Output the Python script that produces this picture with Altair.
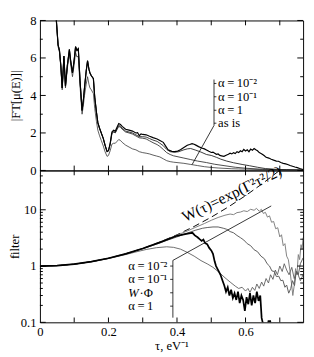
import altair as alt
import pandas as pd

FONT = "Liberation Serif"
XMAX = 0.768
PW, H1, H2 = 272, 155, 157

# ---------------- top panel: |FT[mu(E)]| ----------------
# common low-tau part of the three filtered curves (they overlap there)
filtered_low = [(0.040, 9.5), (0.048, 8.0), (0.053, 6.7), (0.057, 6.4), (0.061, 5.6), (0.065, 4.4),
                (0.070, 6.1), (0.0745, 4.5), (0.080, 5.6), (0.086, 6.45), (0.090, 5.8), (0.095, 5.2),
                (0.100, 5.9), (0.104, 6.6), (0.108, 6.4), (0.112, 6.5), (0.117, 4.8), (0.123, 3.2),
                (0.127, 3.8), (0.130, 4.4), (0.135, 5.3), (0.139, 5.85), (0.143, 5.4), (0.146, 5.2),
                (0.150, 5.05), (0.156, 4.9), (0.160, 3.9), (0.165, 3.1), (0.169, 2.55), (0.174, 2.25),
                (0.179, 2.0), (0.185, 1.7), (0.190, 1.35), (0.196, 1.0), (0.200, 1.05)]

top_a2_tail = [(0.205, 1.45), (0.21, 2.05), (0.215, 2.15), (0.22, 2.1), (0.225, 2.3), (0.23, 2.5),
               (0.235, 2.45), (0.24, 2.35), (0.25, 2.2), (0.26, 2.15), (0.27, 2.1), (0.28, 2.0),
               (0.285, 2.02), (0.29, 1.85), (0.295, 1.95), (0.30, 1.92), (0.31, 1.9), (0.32, 1.82),
               (0.33, 1.75), (0.342, 1.68), (0.35, 1.6), (0.36, 1.5), (0.367, 1.3), (0.374, 1.1),
               (0.385, 1.02), (0.393, 1.0), (0.402, 1.03), (0.41, 1.1), (0.42, 1.22), (0.43, 1.34),
               (0.437, 1.38), (0.444, 1.43), (0.45, 1.4), (0.455, 1.35), (0.463, 1.27), (0.472, 1.2),
               (0.48, 1.15), (0.486, 1.09), (0.493, 1.02), (0.50, 0.96), (0.505, 0.98), (0.51, 0.92),
               (0.515, 0.86), (0.52, 0.88), (0.525, 0.8), (0.53, 0.78), (0.537, 0.75), (0.545, 0.82),
               (0.55, 0.86), (0.555, 0.92), (0.56, 0.88), (0.565, 0.95), (0.57, 0.9), (0.575, 1.0),
               (0.58, 0.95), (0.585, 1.05), (0.59, 1.0), (0.595, 1.12), (0.60, 1.04), (0.605, 1.1),
               (0.61, 1.0), (0.615, 1.14), (0.62, 1.08), (0.625, 1.17), (0.63, 1.1), (0.635, 1.05),
               (0.64, 0.95), (0.644, 0.92), (0.65, 0.85), (0.655, 0.78), (0.66, 0.7), (0.668, 0.66),
               (0.675, 0.6), (0.682, 0.55), (0.69, 0.5), (0.696, 0.49), (0.703, 0.42), (0.71, 0.38),
               (0.717, 0.35), (0.723, 0.32), (0.73, 0.26), (0.737, 0.22), (0.744, 0.18), (0.751, 0.15),
               (0.758, 0.1), (0.768, 0.05)]

top_a1_tail = [(0.205, 1.4), (0.21, 1.98), (0.215, 2.08), (0.22, 2.03), (0.225, 2.22), (0.23, 2.4),
               (0.235, 2.35), (0.24, 2.25), (0.25, 2.1), (0.26, 2.05), (0.27, 2.0), (0.28, 1.9),
               (0.29, 1.8), (0.30, 1.8), (0.31, 1.78), (0.32, 1.7), (0.33, 1.62), (0.342, 1.55),
               (0.35, 1.45), (0.36, 1.32), (0.37, 1.12), (0.38, 1.0), (0.393, 0.97), (0.405, 1.0),
               (0.42, 1.1), (0.43, 1.15), (0.44, 1.17), (0.455, 1.08), (0.47, 0.98), (0.486, 0.85),
               (0.50, 0.8), (0.515, 0.7), (0.528, 0.6), (0.545, 0.5), (0.565, 0.41), (0.59, 0.32),
               (0.612, 0.25), (0.635, 0.17), (0.658, 0.1), (0.69, 0.06), (0.72, 0.04), (0.768, 0.02)]

top_a0_tail = [(0.205, 1.4), (0.21, 1.95), (0.215, 2.05), (0.22, 2.0), (0.225, 2.18), (0.23, 2.35),
               (0.235, 2.3), (0.24, 2.2), (0.25, 2.05), (0.26, 2.0), (0.27, 1.94), (0.28, 1.84),
               (0.29, 1.74), (0.30, 1.72), (0.31, 1.68), (0.32, 1.58), (0.33, 1.48), (0.342, 1.38),
               (0.35, 1.28), (0.36, 1.12), (0.37, 0.95), (0.38, 0.85), (0.39, 0.78), (0.40, 0.74),
               (0.42, 0.66), (0.44, 0.58), (0.46, 0.5), (0.486, 0.42), (0.51, 0.33), (0.54, 0.25),
               (0.57, 0.17), (0.60, 0.12), (0.64, 0.07), (0.70, 0.04), (0.768, 0.02)]

top_asis = [(0.040, 9.4), (0.048, 7.9), (0.053, 6.6), (0.057, 6.3), (0.061, 5.5), (0.065, 4.3),
            (0.070, 5.95), (0.0745, 4.4), (0.080, 5.45), (0.086, 6.25), (0.090, 5.6), (0.095, 5.0),
            (0.100, 5.65), (0.104, 6.3), (0.108, 6.05), (0.112, 6.1), (0.117, 4.5), (0.123, 3.0),
            (0.127, 3.5), (0.130, 4.0), (0.135, 4.6), (0.139, 5.0), (0.143, 4.6), (0.146, 4.4),
            (0.150, 4.3), (0.156, 4.1), (0.160, 3.3), (0.165, 2.6), (0.169, 2.15), (0.174, 1.85),
            (0.179, 1.6), (0.185, 1.3), (0.190, 1.0), (0.196, 0.75), (0.200, 0.8), (0.205, 1.05),
            (0.210, 1.4), (0.215, 1.45), (0.220, 1.45), (0.225, 1.55), (0.230, 1.65), (0.235, 1.6),
            (0.240, 1.5), (0.250, 1.35), (0.260, 1.25), (0.270, 1.15), (0.280, 1.1), (0.290, 1.0),
            (0.300, 0.95), (0.310, 0.92), (0.320, 0.88), (0.330, 0.82), (0.340, 0.77), (0.350, 0.72),
            (0.360, 0.62), (0.370, 0.52), (0.380, 0.47), (0.390, 0.44), (0.400, 0.42), (0.420, 0.38),
            (0.440, 0.32), (0.460, 0.26), (0.480, 0.2), (0.500, 0.16), (0.520, 0.13), (0.540, 0.11),
            (0.560, 0.09), (0.580, 0.08), (0.600, 0.07), (0.650, 0.05), (0.700, 0.03), (0.768, 0.02)]

TS = "\u2009"  # thin space
top_labels = [f"α{TS}={TS}10⁻²", f"α{TS}={TS}10⁻¹", f"α{TS}={TS}1", "as is"]
top_label_v = [4.64, 3.93, 3.21, 2.52]
top_label_tau = 0.52
top_bracket = dict(tau=0.508, v_top=4.85, v_bot=2.4, tick_end=0.515)
top_leader = dict(tau=0.508, v=2.4, tau2=0.444, v2=0.31)

# ---------------- bottom panel: filters ----------------
bot_W = [(0, 1.0), (0.05, 1.02), (0.1, 1.083), (0.15, 1.197), (0.2, 1.377), (0.25, 1.649),
         (0.3, 2.054), (0.35, 2.664), (0.4, 3.597), (0.45, 5.053), (0.5, 7.389), (0.55, 11.25),
         (0.6, 17.81), (0.65, 29.37), (0.7, 50.4), (0.72, 63.3)]

bot_a2 = [(0, 1.0), (0.05, 1.02), (0.1, 1.083), (0.15, 1.197), (0.2, 1.377), (0.25, 1.649),
          (0.3, 2.05), (0.35, 2.65), (0.4, 3.55), (0.43, 4.2), (0.455, 4.9), (0.48, 5.7), (0.5, 6.5),
          (0.52, 7.3), (0.54, 8.0), (0.555, 8.4), (0.565, 8.2), (0.575, 8.9), (0.585, 9.1),
          (0.595, 9.6), (0.605, 9.3), (0.615, 10.2), (0.625, 9.8), (0.632, 10.6), (0.64, 9.4),
          (0.646, 10.2), (0.652, 8.6), (0.658, 9.0), (0.664, 7.4), (0.67, 7.8), (0.676, 6.0),
          (0.682, 6.2), (0.688, 4.6), (0.694, 4.8), (0.70, 3.3), (0.705, 3.6), (0.71, 2.3),
          (0.715, 2.5), (0.72, 1.5), (0.725, 1.3), (0.73, 0.8), (0.734, 0.5), (0.738, 0.3),
          (0.742, 0.45), (0.746, 0.9), (0.75, 0.7), (0.754, 1.6), (0.758, 1.3), (0.762, 2.4),
          (0.765, 2.0), (0.768, 3.2)]

bot_a1 = [(0, 1.0), (0.05, 1.02), (0.1, 1.08), (0.15, 1.195), (0.2, 1.37), (0.25, 1.64), (0.3, 2.03),
          (0.34, 2.45), (0.37, 2.85), (0.40, 3.3), (0.43, 3.85), (0.455, 4.35), (0.475, 4.7),
          (0.49, 4.85), (0.505, 4.95), (0.52, 4.95), (0.535, 4.7), (0.545, 4.5), (0.555, 4.1),
          (0.565, 3.9), (0.575, 3.5), (0.585, 3.2), (0.595, 2.9), (0.605, 2.5), (0.615, 2.3),
          (0.625, 1.95), (0.635, 1.8), (0.645, 1.5), (0.655, 1.35), (0.663, 1.1), (0.67, 1.0),
          (0.677, 0.82), (0.684, 0.8), (0.69, 0.65), (0.697, 0.66), (0.703, 0.55), (0.709, 0.56),
          (0.715, 0.42), (0.72, 0.46), (0.726, 0.33), (0.732, 0.4), (0.737, 0.55), (0.743, 0.45),
          (0.748, 0.8), (0.754, 0.7), (0.76, 1.1), (0.768, 1.4)]

bot_a0 = [(0, 1.0), (0.05, 1.02), (0.1, 1.08), (0.15, 1.19), (0.2, 1.36), (0.25, 1.6), (0.28, 1.78),
          (0.31, 1.97), (0.34, 2.12), (0.37, 2.2), (0.39, 2.15), (0.41, 2.0), (0.43, 1.75),
          (0.45, 1.5), (0.47, 1.25), (0.49, 1.08), (0.505, 0.95), (0.52, 0.8), (0.54, 0.62),
          (0.555, 0.52), (0.57, 0.44), (0.58, 0.4), (0.59, 0.42), (0.60, 0.36), (0.607, 0.4),
          (0.613, 0.34), (0.62, 0.42), (0.627, 0.37), (0.633, 0.48), (0.64, 0.4), (0.647, 0.52),
          (0.653, 0.44), (0.66, 0.6), (0.667, 0.5), (0.673, 0.7), (0.68, 0.58), (0.687, 0.85),
          (0.693, 0.7), (0.70, 1.0), (0.707, 0.8), (0.713, 1.1), (0.72, 0.85), (0.727, 0.7),
          (0.735, 0.95), (0.742, 0.6), (0.75, 0.8), (0.76, 0.55), (0.768, 0.7)]

bot_wphi = [(0, 1.0), (0.05, 1.02), (0.1, 1.083), (0.15, 1.197), (0.2, 1.377), (0.25, 1.649),
            (0.3, 2.05), (0.35, 2.64), (0.40, 3.45), (0.42, 3.65), (0.435, 3.8), (0.445, 3.9),
            (0.452, 3.5), (0.46, 3.25), (0.466, 3.0), (0.472, 2.8), (0.477, 2.95), (0.482, 2.55),
            (0.488, 2.45), (0.494, 2.1), (0.50, 1.9), (0.505, 1.65), (0.51, 1.2), (0.514, 1.0),
            (0.52, 0.85), (0.527, 0.7), (0.533, 0.55), (0.538, 0.45), (0.543, 0.35), (0.548, 0.42),
            (0.553, 0.3), (0.558, 0.38), (0.563, 0.27), (0.568, 0.33), (0.573, 0.25), (0.578, 0.35),
            (0.583, 0.22), (0.588, 0.3), (0.593, 0.25), (0.598, 0.16), (0.603, 0.28), (0.608, 0.21),
            (0.613, 0.33), (0.618, 0.2), (0.623, 0.3), (0.628, 0.22), (0.633, 0.35), (0.638, 0.24),
            (0.643, 0.3), (0.647, 0.12), (0.65, 0.1), (0.655, 0.08), (0.662, 0.07), (0.667, 0.105),
            (0.672, 0.105), (0.676, 0.07), (0.685, 0.06)]

bot_labels = [f"α{TS}={TS}10⁻²", f"α{TS}={TS}10⁻¹", "", f"α{TS}={TS}1"]
bot_label_v = [1.0, 0.58, 0.335, 0.194]
bot_label_tau = 0.258
bot_bracket = dict(tau=0.388, v_top=1.26, v_bot=0.121, tick_start=0.38)
bot_leader = dict(tau=0.388, v=1.26, tau2=0.675, v2=11.7)
w_label = dict(tau=0.56, v=19.0, text="W(τ)=exp(Γ²τ²/2)")

x_tick_vals = [0.1, 0.2, 0.3, 0.4, 0.5, 0.6, 0.7]
top_major = [0, 2, 4, 6, 8]
top_minor = [1, 3, 5, 7]
log_major = [0.1, 1, 10]
log_minor = [0.2, 0.3, 0.4, 0.5, 0.6, 0.7, 0.8, 0.9, 2, 3, 4, 5, 6, 7, 8, 9, 20, 30, 40]


def frame(pairs):
    return pd.DataFrame(pairs, columns=["tau", "v"])


xs = alt.Scale(domain=[0, XMAX], nice=False, zero=False)
ys_top = alt.Scale(domain=[0, 8], nice=False, zero=False)
ys_bot = alt.Scale(type="log", domain=[0.1, 50], nice=False)

AX = dict(labelFont=FONT, titleFont=FONT, labelFontSize=13, titleFontSize=13,
          titleFontWeight="normal", labelColor="black", titleColor="black",
          ticks=False, domain=False, grid=False)

X_top = alt.X("tau:Q", scale=xs, axis=None)
Y_top = alt.Y("v:Q", scale=ys_top,
              axis=alt.Axis(values=top_major, title="|FT[μ(E)]|", labelPadding=4,
                            titleX=-25, titleBaseline="middle", **AX))
X_bot = alt.X("tau:Q", scale=xs,
              axis=alt.Axis(values=[0, 0.2, 0.4, 0.6], format="~g", title="τ, eV⁻¹",
                            labelPadding=4, titlePadding=1, labelFlush=False, **AX))
Y_bot = alt.Y("v:Q", scale=ys_bot,
              axis=alt.Axis(values=log_major, format="~g", title="filter", labelPadding=4,
                            titleX=-26, titleBaseline="middle", **AX))


def line(pairs, X, Y, color, width, dash=None):
    kw = dict(color=color, strokeWidth=width, clip=True)
    if dash:
        kw["strokeDash"] = dash
    return alt.Chart(frame(pairs)).mark_line(**kw).encode(x=X, y=Y, order="tau:Q")


def yticks(vals, Y, length, side):
    df = pd.DataFrame({"v": vals})
    if side == "left":
        x0, x1 = 0, length
    else:
        x0, x1 = PW - length, PW
    return alt.Chart(df).mark_rule(color="black", strokeWidth=1).encode(
        y=Y, x=alt.value(x0), x2=alt.value(x1))


def xticks(X, H, side):
    df = pd.DataFrame({"tau": x_tick_vals})
    y0, y1 = (0, 5) if side == "top" else (H - 5, H)
    return alt.Chart(df).mark_rule(color="black", strokeWidth=1).encode(
        x=X, y=alt.value(y0), y2=alt.value(y1))


def texts(labels, tau, vals, X, Y, style="normal", dx=0, size=13):
    df = pd.DataFrame({"tau": [tau] * len(labels), "v": vals, "label": labels})
    return alt.Chart(df).mark_text(align="left", baseline="middle", font=FONT, fontSize=size,
                                   fontStyle=style, dx=dx, color="black").encode(
        x=X, y=Y, text="label:N")


def seg(tau, v, tau2, v2, X, Y):
    df = pd.DataFrame({"tau": [tau], "v": [v], "tau2": [tau2], "v2": [v2]})
    return alt.Chart(df).mark_rule(color="black", strokeWidth=0.8).encode(
        x=X, y=Y, x2="tau2:Q", y2="v2:Q")


def vseg(tau, v, v2, X, Y):
    df = pd.DataFrame({"tau": [tau], "v": [v], "v2": [v2]})
    return alt.Chart(df).mark_rule(color="black", strokeWidth=0.8).encode(x=X, y=Y, y2="v2:Q")


def hsegs(tau, tau2, vals, X, Y):
    df = pd.DataFrame({"tau": [tau] * len(vals), "tau2": [tau2] * len(vals), "v": vals})
    return alt.Chart(df).mark_rule(color="black", strokeWidth=0.8).encode(x=X, y=Y, x2="tau2:Q")


tb = top_bracket
top = alt.layer(
    line(top_asis, X_top, Y_top, "#333333", 0.8),
    line(filtered_low + top_a0_tail, X_top, Y_top, "#333333", 0.9),
    line(filtered_low + top_a1_tail, X_top, Y_top, "#222222", 0.9),
    line(filtered_low + top_a2_tail, X_top, Y_top, "black", 1.2),
    yticks(top_major, Y_top, 6, "left"), yticks(top_minor, Y_top, 3, "left"),
    yticks(top_major, Y_top, 6, "right"), yticks(top_minor, Y_top, 3, "right"),
    xticks(X_top, H1, "top"), xticks(X_top, H1, "bottom"),
    texts(top_labels, top_label_tau, top_label_v, X_top, Y_top),
    vseg(tb["tau"], tb["v_top"], tb["v_bot"], X_top, Y_top),
    hsegs(tb["tau"], tb["tick_end"], top_label_v, X_top, Y_top),
    seg(top_leader["tau"], top_leader["v"], top_leader["tau2"], top_leader["v2"], X_top, Y_top),
).properties(width=PW, height=H1)

bb = bot_bracket
wl = pd.DataFrame({"tau": [w_label["tau"]], "v": [w_label["v"]], "label": [w_label["text"]]})
bottom = alt.layer(
    line(bot_W, X_bot, Y_bot, "black", 1.0, dash=[7, 4]),
    line(bot_a2, X_bot, Y_bot, "#808080", 1.0),
    line(bot_a1, X_bot, Y_bot, "#5a5a5a", 1.0),
    line(bot_a0, X_bot, Y_bot, "#5a5a5a", 0.9),
    line(bot_wphi, X_bot, Y_bot, "black", 1.8),
    yticks(log_major, Y_bot, 6, "left"), yticks(log_minor, Y_bot, 3, "left"),
    yticks(log_major, Y_bot, 6, "right"), yticks(log_minor, Y_bot, 3, "right"),
    xticks(X_bot, H2, "top"), xticks(X_bot, H2, "bottom"),
    texts(bot_labels, bot_label_tau, bot_label_v, X_bot, Y_bot),
    texts(["W"], bot_label_tau, [bot_label_v[2]], X_bot, Y_bot, style="italic"),
    texts(["·Φ"], bot_label_tau, [bot_label_v[2]], X_bot, Y_bot, dx=11.5),
    vseg(bb["tau"], bb["v_top"], bb["v_bot"], X_bot, Y_bot),
    hsegs(bb["tick_start"], bb["tau"], bot_label_v, X_bot, Y_bot),
    seg(bot_leader["tau"], bot_leader["v"], bot_leader["tau2"], bot_leader["v2"], X_bot, Y_bot),
    alt.Chart(wl).mark_text(align="center", baseline="middle", font=FONT, fontSize=16,
                            angle=334, color="black").encode(x=X_bot, y=Y_bot, text="label:N"),
).properties(width=PW, height=H2)

chart = alt.vconcat(top, bottom, spacing=0, bounds="flush").properties(
    padding={"left": 0, "top": 0, "right": 2, "bottom": 0}, background="white"
).configure_view(stroke="black", strokeWidth=1)

chart.save("out.html", embed_options={"renderer": "svg", "actions": False})
